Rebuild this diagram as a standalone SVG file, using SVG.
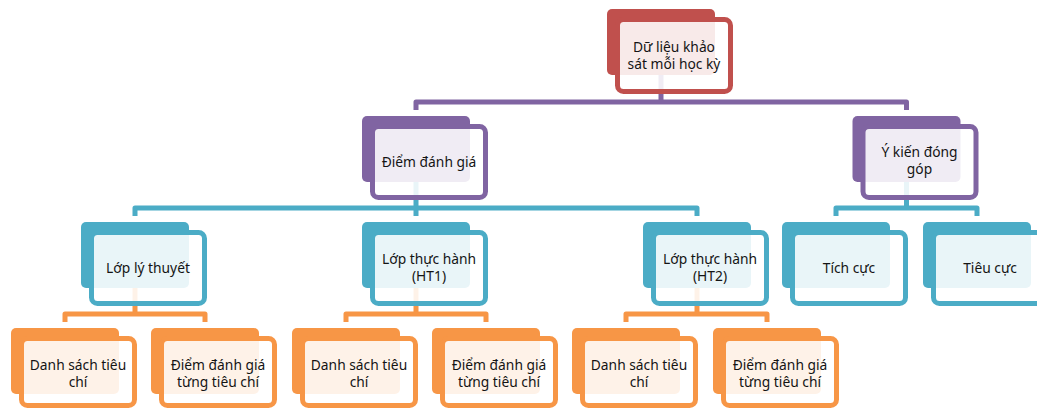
<svg xmlns="http://www.w3.org/2000/svg" width="1037" height="408" viewBox="0 0 1037 408">
<defs>
<style>
.bk{stroke:none}
.fr{fill:#ffffff;fill-opacity:0.88;stroke-width:5}
.red .bk{fill:#C0504D}.red .fr{stroke:#C0504D}
.pur .bk{fill:#8064A2}.pur .fr{stroke:#8064A2}
.teal .bk{fill:#4BACC6}.teal .fr{stroke:#4BACC6}
.org .bk{fill:#F79646}.org .fr{stroke:#F79646}
text{font-family:"Noto Sans","Open Sans","DejaVu Sans",sans-serif;font-size:13.8px;fill:#141414;text-anchor:middle}
.cn{fill:none;stroke-width:5;stroke-linejoin:round}
</style>
</defs>
<rect width="1037" height="408" fill="#ffffff"/>
<g id="connectors">
<path class="cn" stroke="#8064A2" d="M416,110 V102 H906.5 V110 M661,75 V102"/>
<path class="cn" stroke="#4BACC6" d="M135,216 V208 H697 V216 M416,182 V216"/>
<path class="cn" stroke="#4BACC6" d="M836,216 V208 H977 V216 M906.5,182 V208"/>
<path class="cn" stroke="#F79646" d="M65,322 V314 H205 V322 M135,288 V314"/>
<path class="cn" stroke="#F79646" d="M346,322 V314 H486 V322 M416,288 V314"/>
<path class="cn" stroke="#F79646" d="M626,322 V314 H767 V322 M697,288 V314"/>
</g>
<g id="n-top" class="red">
<rect class="bk" x="607" y="9" width="108" height="66" rx="5"/>
<rect class="fr" x="617.5" y="19.5" width="113" height="72" rx="6"/>
<text x="674" y="52">Dữ liệu khảo</text><text x="674" y="69">sát mỗi học kỳ</text>
</g>
<g id="n-diem" class="pur">
<rect class="bk" x="362" y="116" width="108" height="66" rx="5"/>
<rect class="fr" x="372.5" y="126.5" width="113" height="71" rx="6"/>
<text x="429" y="166.5">Điểm đánh giá</text>
</g>
<g id="n-ykien" class="pur">
<rect class="bk" x="852.5" y="116" width="108" height="66" rx="5"/>
<rect class="fr" x="863" y="126.5" width="113" height="71" rx="6"/>
<text x="919.5" y="157">Ý kiến đóng</text><text x="919.5" y="174">góp</text>
</g>
<g id="n-lt" class="teal">
<rect class="bk" x="81" y="222" width="108" height="66" rx="5"/>
<rect class="fr" x="91.5" y="232.5" width="113" height="71" rx="6"/>
<text x="148" y="273">Lớp lý thuyết</text>
</g>
<g id="n-ht1" class="teal">
<rect class="bk" x="362" y="222" width="108" height="66" rx="5"/>
<rect class="fr" x="372.5" y="232.5" width="113" height="71" rx="6"/>
<text x="429" y="264">Lớp thực hành</text><text x="429" y="281">(HT1)</text>
</g>
<g id="n-ht2" class="teal">
<rect class="bk" x="643" y="222" width="108" height="66" rx="5"/>
<rect class="fr" x="653.5" y="232.5" width="113" height="71" rx="6"/>
<text x="710" y="264">Lớp thực hành</text><text x="710" y="281">(HT2)</text>
</g>
<g id="n-tich" class="teal">
<rect class="bk" x="782" y="222" width="108" height="66" rx="5"/>
<rect class="fr" x="792.5" y="232.5" width="113" height="71" rx="6"/>
<text x="849" y="273">Tích cực</text>
</g>
<g id="n-tieu" class="teal">
<rect class="bk" x="923" y="222" width="108" height="66" rx="5"/>
<rect class="fr" x="933.5" y="232.5" width="113" height="71" rx="6"/>
<text x="990" y="273">Tiêu cực</text>
</g>
<g id="n-ds1" class="org">
<rect class="bk" x="11" y="328" width="108" height="66" rx="5"/>
<rect class="fr" x="21.5" y="338.5" width="113" height="67" rx="6"/>
<text x="78" y="370">Danh sách tiêu</text><text x="78" y="387">chí</text>
</g>
<g id="n-dg1" class="org">
<rect class="bk" x="151" y="328" width="108" height="66" rx="5"/>
<rect class="fr" x="161.5" y="338.5" width="113" height="67" rx="6"/>
<text x="218" y="370">Điểm đánh giá</text><text x="218" y="387">từng tiêu chí</text>
</g>
<g id="n-ds2" class="org">
<rect class="bk" x="292" y="328" width="108" height="66" rx="5"/>
<rect class="fr" x="302.5" y="338.5" width="113" height="67" rx="6"/>
<text x="359" y="370">Danh sách tiêu</text><text x="359" y="387">chí</text>
</g>
<g id="n-dg2" class="org">
<rect class="bk" x="432" y="328" width="108" height="66" rx="5"/>
<rect class="fr" x="442.5" y="338.5" width="113" height="67" rx="6"/>
<text x="499" y="370">Điểm đánh giá</text><text x="499" y="387">từng tiêu chí</text>
</g>
<g id="n-ds3" class="org">
<rect class="bk" x="572" y="328" width="108" height="66" rx="5"/>
<rect class="fr" x="582.5" y="338.5" width="113" height="67" rx="6"/>
<text x="639" y="370">Danh sách tiêu</text><text x="639" y="387">chí</text>
</g>
<g id="n-dg3" class="org">
<rect class="bk" x="713" y="328" width="108" height="66" rx="5"/>
<rect class="fr" x="723.5" y="338.5" width="113" height="67" rx="6"/>
<text x="780" y="370">Điểm đánh giá</text><text x="780" y="387">từng tiêu chí</text>
</g>
</svg>
